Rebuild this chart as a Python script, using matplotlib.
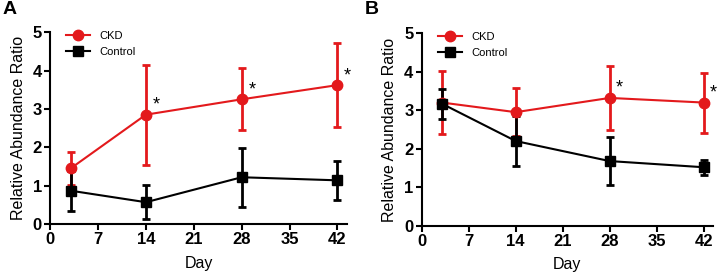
import matplotlib.pyplot as plt

plt.rcParams['font.family'] = ['Liberation Sans', 'DejaVu Sans']

days = [3, 14, 28, 42]
x_ticks = [0, 7, 14, 21, 28, 35, 42]

# Painel A
ckd_a = [1.45, 2.85, 3.25, 3.62]
ckd_a_err = [0.43, 1.30, 0.81, 1.09]
ctrl_a = [0.87, 0.57, 1.22, 1.14]
ctrl_a_err = [0.52, 0.45, 0.77, 0.51]
stars_a = [14, 28, 42]

# Painel B
ckd_b = [3.20, 2.95, 3.32, 3.20]
ckd_b_err = [0.82, 0.63, 0.83, 0.78]
ctrl_b = [3.17, 2.20, 1.68, 1.52]
ctrl_b_err = [0.39, 0.64, 0.63, 0.19]
stars_b = [28, 42]

RED = '#e3191c'


def draw_panel(ax, ckd, ckd_err, ctrl, ctrl_err, stars):
    ax.errorbar(days, ckd, yerr=ckd_err, color=RED, marker='o', markersize=7.5,
                linewidth=1.5, elinewidth=2, capsize=3, capthick=2, label='CKD')
    ax.errorbar(days, ctrl, yerr=ctrl_err, color='black', marker='s', markersize=7,
                linewidth=1.5, elinewidth=2, capsize=3, capthick=2, label='Control')
    for d in stars:
        i = days.index(d)
        ax.text(d + 1.5, ckd[i] + 0.25, '*', fontsize=13, ha='center', va='center')

    ax.set_xlim(0, 43.4)
    ax.set_ylim(0, 5)
    ax.set_xticks(x_ticks)
    ax.set_yticks(range(6))
    ax.spines['top'].set_visible(False)
    ax.spines['right'].set_visible(False)
    ax.spines['left'].set_linewidth(1.5)
    ax.spines['bottom'].set_linewidth(1.5)
    ax.tick_params(width=1.5, length=4, labelsize=12, pad=2)
    for t in ax.get_xticklabels() + ax.get_yticklabels():
        t.set_fontweight('bold')
    ax.set_xlabel('Day', fontsize=11.5, labelpad=6)
    ax.set_ylabel('Relative Abundance Ratio', fontsize=11.5, labelpad=5)

    handles, labels = ax.get_legend_handles_labels()
    handles = [h[0] for h in handles]
    ax.legend(handles, labels, loc='upper left', frameon=False, fontsize=8,
              bbox_to_anchor=(0.02, 1.06), handlelength=2.2, labelspacing=0.6)


fig = plt.figure(figsize=(7.26, 2.77), dpi=100)
ax1 = fig.add_axes([0.069, 0.191, 0.409, 0.693])
ax2 = fig.add_axes([0.581, 0.185, 0.401, 0.695])

draw_panel(ax1, ckd_a, ckd_a_err, ctrl_a, ctrl_a_err, stars_a)
draw_panel(ax2, ckd_b, ckd_b_err, ctrl_b, ctrl_b_err, stars_b)

fig.text(0.003, 0.995, 'A', fontsize=14, fontweight='bold', va='top')
fig.text(0.503, 0.995, 'B', fontsize=14, fontweight='bold', va='top')

fig.savefig('out.png', dpi=100)
